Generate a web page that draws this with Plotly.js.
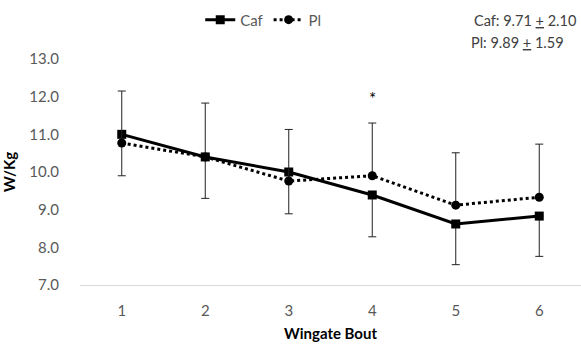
<!DOCTYPE html>
<html><head><meta charset="utf-8">
<script src="https://cdn.plot.ly/plotly-3.0.1.min.js"></script>
<style>html,body{margin:0;padding:0;background:#fff;}#chart{width:581px;height:347px;}</style>
</head><body><div id="chart"></div>
<script>
const bouts = [1, 2, 3, 4, 5, 6];
const tickLabels = ['1', '2', '3', '4', '5', '6'];
const cafValues = [11.0, 10.4, 10.0, 9.39, 8.62, 8.83];
const plValues = [10.77, 10.4, 9.76, 9.9, 9.12, 9.33];
const cafErrMinus = [1.10, 1.10, 1.11, 1.11, 1.08, 1.07];
const plErrPlus = [1.38, 1.43, 1.37, 1.40, 1.39, 1.41];
const summaryLines = ['Caf: 9.71 <u>+</u> 2.10', 'Pl: 9.89 <u>+</u> 1.59'];
const sigBout = 4, sigY = 12.0;

const font = 'Lato, "Open Sans", sans-serif';
const traces = [
  {x: bouts, y: cafValues, name: 'Caf', type: 'scatter', mode: 'lines+markers',
   line: {color: '#000', width: 3},
   marker: {symbol: 'square', size: 9, color: '#000'},
   error_y: {type: 'data', symmetric: false, array: cafValues.map(() => 0), arrayminus: cafErrMinus,
     color: '#222', thickness: 1, width: 4}},
  {x: bouts, y: plValues, name: 'Pl', type: 'scatter', mode: 'lines+markers',
   line: {color: '#000', width: 3, dash: 'dot'},
   marker: {symbol: 'circle', size: 9, color: '#000'},
   error_y: {type: 'data', symmetric: false, array: plErrPlus, arrayminus: plValues.map(() => 0),
     color: '#222', thickness: 1, width: 4}}
];
const layout = {
  width: 581, height: 347,
  margin: {l: 80, r: 0, t: 59, b: 62},
  paper_bgcolor: '#fff', plot_bgcolor: '#fff',
  font: {family: font, size: 15, color: '#595959'},
  showlegend: true,
  legend: {orientation: 'h', x: 0.24, xanchor: 'left', y: 1.173, yanchor: 'middle',
    font: {family: font, size: 15, color: '#595959'}, itemwidth: 30, bgcolor: 'rgba(0,0,0,0)'},
  xaxis: {range: [0.5, 6.5], tickvals: bouts, ticktext: tickLabels, showgrid: false, zeroline: false,
    showline: true, linecolor: '#d9d9d9', linewidth: 1, ticks: '', ticklabelstandoff: 12,
    title: {text: '<b>Wingate Bout</b>', font: {family: font, size: 15, color: '#000'}, standoff: 10}},
  yaxis: {range: [7, 13], dtick: 1, tickformat: '.1f', showgrid: false, zeroline: false, showline: false,
    ticks: '', ticklabelstandoff: 20,
    title: {text: '<b>W/Kg</b>', font: {family: font, size: 15, color: '#000'}, standoff: 11}},
  annotations: [
    {x: sigBout, y: sigY, xref: 'x', yref: 'y', text: '*', showarrow: false, yshift: -2,
     font: {family: font, size: 17, color: '#000'}},
    {text: summaryLines[0], showarrow: false},
    {text: summaryLines[1], showarrow: false}
  ]
};
// summary text positions in paper coords (from pixel locations)
layout.annotations[1].x = (578 - 80) / 501; layout.annotations[1].y = (285 - 20) / 226;
layout.annotations[2].x = (566 - 80) / 501; layout.annotations[2].y = (285 - 43) / 226;
for (const i of [1, 2]) {
  Object.assign(layout.annotations[i], {xref: 'paper', yref: 'paper', xanchor: 'right', yanchor: 'middle',
    align: 'left', font: {family: font, size: 14.5, color: '#404040'}});
}
Plotly.newPlot('chart', traces, layout, {displayModeBar: false, staticPlot: true});
</script></body></html>
